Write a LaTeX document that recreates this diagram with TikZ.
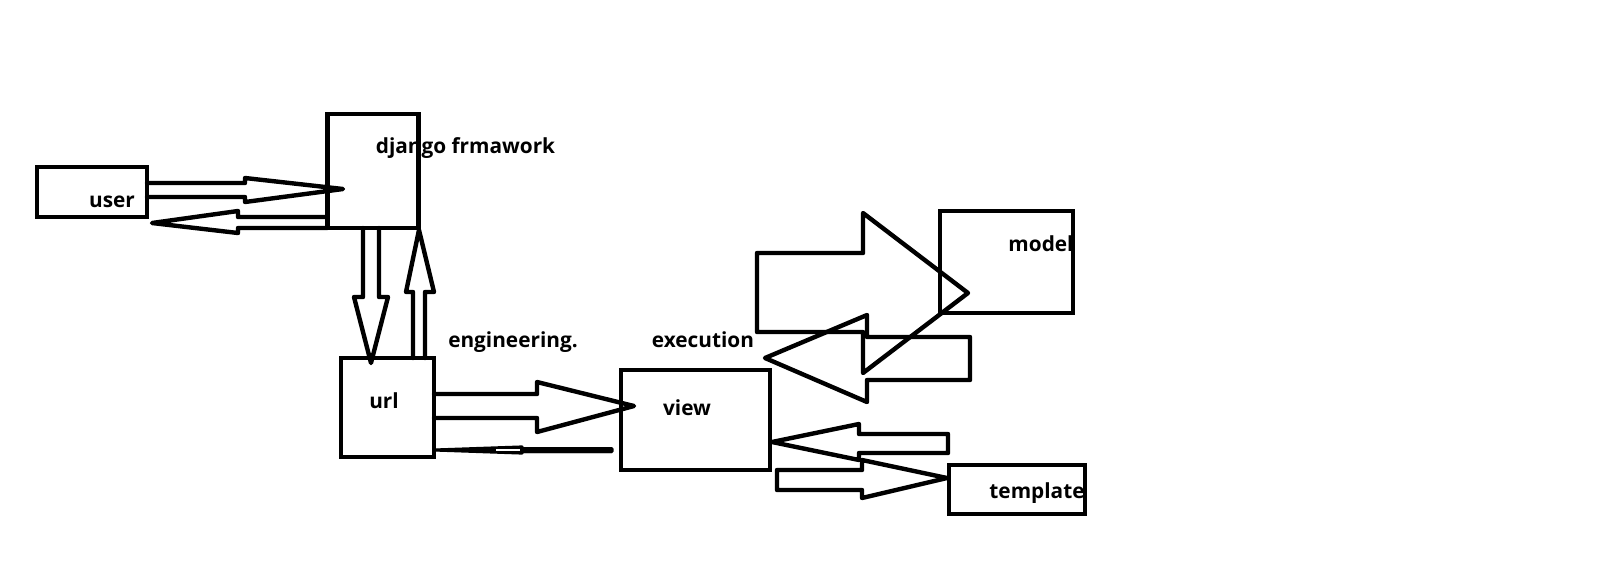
\documentclass[tikz,border=0pt]{standalone}
\usepackage{fontspec}
\setmainfont{Open Sans}
\begin{document}
\begin{tikzpicture}[x=0.5pt,y=-0.5pt,
  box/.style={draw=black,line width=2.2pt,rectangle,inner sep=0pt,line join=miter},
  blk/.style={draw=black,line width=2.2pt,line join=round,line cap=round},
  lbl/.style={inner sep=0pt,anchor=base,font=\fontsize{10.4pt}{12pt}\selectfont\bfseries}]
\fill[white] (0,0) rectangle (1614,564);
\useasboundingbox (0,0) rectangle (1614,564);
% boxes
\node[box,minimum width=55pt,minimum height=25pt] (user) at (92,192) {};
\node[box,minimum width=45.5pt,minimum height=57pt] (django) at (373,171) {};
\node[box,minimum width=46.5pt,minimum height=49.5pt] (url) at (387.5,407.5) {};
\node[box,minimum width=74.5pt,minimum height=50pt] (view) at (695.5,420) {};
\node[box,minimum width=66.5pt,minimum height=51pt] (model) at (1006.5,262) {};
\node[box,minimum width=68pt,minimum height=24.5pt] (template) at (1017,489.5) {};
% block arrows
\draw[blk] (147,183) -- (245,183) -- (245,178) -- (343,189) -- (245,202) -- (245,197) -- (147,197);
\draw[blk] (327,217) -- (238,217) -- (238,211) -- (152,223) -- (238,233) -- (238,228) -- (327,228);
\draw[blk] (363,228) -- (363,297) -- (354,297) -- (371,363) -- (388,297) -- (379,297) -- (379,228);
\draw[blk] (413,358) -- (413,292) -- (406,292) -- (419,230) -- (434,292) -- (425,292) -- (425,358);
\draw[blk] (434,394) -- (537,394) -- (537,382) -- (634,406) -- (537,432) -- (537,418) -- (434,418);
\fill[black] (612,447) -- (524,447) -- (436,449) -- (436,451) -- (524,453) -- (612,453) -- cycle;
\draw[draw=black,line width=1.6pt,line join=round,line cap=round] (612,448.6) -- (522,448.6) -- (522,447) -- (436,450) -- (522,453) -- (522,451.4) -- (612,451.4) -- cycle;
\draw[blk] (757,253) -- (863,253) -- (863,213) -- (968,293) -- (863,373) -- (863,332) -- (757,332) -- cycle;
\draw[blk] (970,337) -- (867,337) -- (867,315) -- (765,358) -- (867,402) -- (867,380) -- (970,380) -- cycle;
\draw[blk] (948,434) -- (859,434) -- (859,424) -- (772,442) -- (859,460) -- (859,453) -- (948,453) -- cycle;
\draw[blk] (777,470) -- (862,470) -- (862,460) -- (947,478) -- (862,498) -- (862,490) -- (777,490) -- cycle;
\fill[white] (496,449.3) -- (520,449.3) -- (520,450.7) -- (496,450.7) -- cycle;
% labels
\node[lbl] (tuser) at (112,207) {user};
\node[lbl] (tdjango) at (465.5,153) {django frmawork};
\node[lbl] (teng) at (513,347) {engineering.};
\node[lbl] (turl) at (384,408) {url};
\node[lbl] (texec) at (703,347) {execution};
\node[lbl] (tview) at (687,415) {view};
\node[lbl] (tmodel) at (1041,251) {model};
\node[lbl] (ttemplate) at (1037,498) {template};
\end{tikzpicture}
\end{document}
